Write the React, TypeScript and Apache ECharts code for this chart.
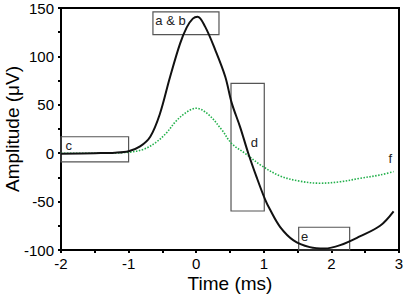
import React, { useEffect, useRef } from "react";
import * as echarts from "echarts";

const blackX = [-2, -1.5, -1.2, -1, -0.83, -0.68, -0.54, -0.39, -0.24, -0.14, -0.05, 0.02, 0.13, 0.28, 0.43, 0.525, 0.65, 0.77, 0.895, 1.02, 1.09, 1.24, 1.44, 1.68, 1.9, 2.13, 2.42, 2.72, 2.92];
const blackY = [-0.5, 0, 0.5, 2, 7, 17, 40, 78, 113, 130, 139, 141, 131, 107, 79, 52, 27, 0, -25, -48, -58, -76, -90, -97, -98.5, -95, -86, -75, -60];

const greenX = [-2, -1.5, -1, -0.78, -0.6, -0.44, -0.3, -0.15, 0, 0.18, 0.38, 0.525, 0.72, 0.97, 1.24, 1.54, 1.83, 2.13, 2.42, 2.72, 2.92];
const greenY = [0, 0, 1, 4, 11, 21, 33, 42, 46.5, 40, 24, 10, 0, -13, -23.5, -29, -31, -29.5, -26, -22.5, -19];

const boxNames = ["c", "a & b", "d", "e"];
const boxX0 = [-2, -0.64, 0.515, 1.516];
const boxX1 = [-1, 0.337, 1.007, 2.27];
const boxY0 = [-9, 122.4, -59.7, -100];
const boxY1 = [17, 146, 72.2, -76.5];

const fLabel = { name: "f", x: 2.87, y: -5.5 };

const xTicks = ["-2", "-1", "0", "1", "2", "3"];
const yTicks = ["-100", "-50", "0", "50", "100", "150"];

export default function App() {
  const ref = useRef<HTMLDivElement>(null);
  useEffect(() => {
    if (!ref.current) return;
    const chart = echarts.init(ref.current, null, { renderer: "svg" });
    const font = "Arial, 'Liberation Sans', sans-serif";
    const boxes = boxNames.map((n, i) => {
      const label: any = {
        show: true,
        formatter: n,
        color: "#222",
        fontSize: 13,
        fontFamily: font,
        position: "insideTopLeft",
        distance: 3,
      };
      if (n === "c") {
        label.offset = [2, 0];
      }
      if (n === "d") {
        label.position = "insideRight";
        label.distance = 7;
        label.offset = [0, -5];
      }
      return [
        { coord: [boxX0[i], boxY0[i]], label },
        { coord: [boxX1[i], boxY1[i]] },
      ];
    });
    chart.setOption({
      animation: false,
      backgroundColor: "#fff",
      grid: {
        left: 61,
        right: 9,
        top: 8,
        bottom: 51,
        containLabel: false,
        outerBoundsMode: "none",
        show: true,
        borderColor: "#000",
        borderWidth: 2,
      },
      xAxis: {
        type: "value",
        min: -2,
        max: 3,
        interval: 1,
        name: "Time (ms)",
        nameLocation: "middle",
        nameGap: 24,
        nameMoveOverlap: false,
        nameTextStyle: { fontSize: 19, fontFamily: font, color: "#000" },
        axisLine: { onZero: false, lineStyle: { color: "#000", width: 2 } },
        axisTick: { show: true, length: 3, lineStyle: { color: "#000", width: 2 } },
        minorTick: { show: true, splitNumber: 2, length: 3, lineStyle: { color: "#000", width: 2 } },
        splitLine: { show: false },
        axisLabel: {
          fontSize: 15,
          fontFamily: font,
          color: "#000",
          margin: 6,
          formatter: (v: number) => xTicks[Math.round(v + 2)] ?? String(v),
        },
      },
      yAxis: {
        type: "value",
        min: -100,
        max: 150,
        interval: 50,
        name: "Amplitude (\u03bcV)",
        nameLocation: "middle",
        nameGap: 39,
        nameMoveOverlap: false,
        nameTextStyle: { fontSize: 19, fontFamily: font, color: "#000" },
        axisLine: { onZero: false, lineStyle: { color: "#000", width: 2 } },
        axisTick: { show: true, length: 3, lineStyle: { color: "#000", width: 2 } },
        minorTick: { show: true, splitNumber: 2, length: 3, lineStyle: { color: "#000", width: 2 } },
        splitLine: { show: false },
        axisLabel: {
          fontSize: 15,
          fontFamily: font,
          color: "#000",
          margin: 7,
          formatter: (v: number) => yTicks[Math.round((v + 100) / 50)] ?? String(v),
        },
      },
      series: [
        {
          type: "line",
          data: greenX.map((x, i) => [x, greenY[i]]),
          smooth: 0.35,
          showSymbol: false,
          lineStyle: { color: "#22b04b", width: 1.6, type: [1.5, 1.5] },
          markPoint: {
            symbol: "circle",
            symbolSize: 0,
            data: [{ coord: [fLabel.x, fLabel.y] }],
            label: {
              show: true,
              position: "inside",
              formatter: fLabel.name,
              color: "#222",
              fontSize: 13,
              fontFamily: font,
            },
          },
        },
        {
          type: "line",
          data: blackX.map((x, i) => [x, blackY[i]]),
          smooth: 0.35,
          showSymbol: false,
          lineStyle: { color: "#111", width: 2 },
          markArea: {
            silent: true,
            itemStyle: { color: "rgba(0,0,0,0)", borderColor: "#555", borderWidth: 1.2 },
            data: boxes,
          },
        },
      ],
    });
    return () => chart.dispose();
  }, []);
  return (
    <div
      ref={ref}
      style={{ position: "fixed", left: 0, top: 0, width: 408, height: 301 }}
    />
  );
}
